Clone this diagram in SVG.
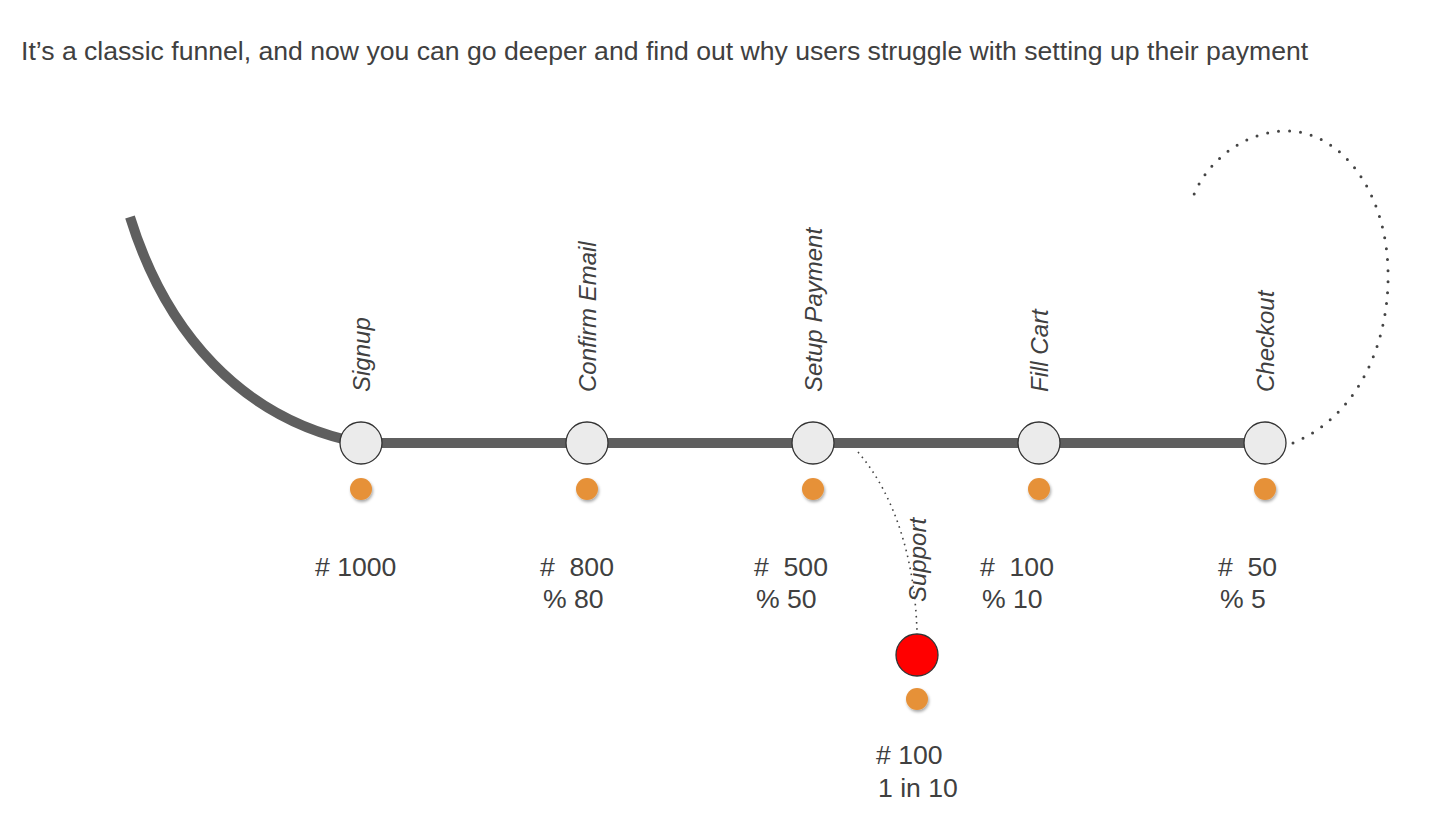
<svg xmlns="http://www.w3.org/2000/svg" width="1456" height="833" viewBox="0 0 1456 833">
<defs>
<filter id="sh" x="-50%" y="-50%" width="200%" height="200%"><feDropShadow dx="1" dy="2" stdDeviation="1.5" flood-color="#000" flood-opacity="0.35"/></filter>
</defs>
<style>
.t{font-family:"Liberation Sans",Arial,sans-serif;font-size:26.6px;fill:#404040;white-space:pre}
.lbl{font-family:"Liberation Sans",Arial,sans-serif;font-size:24px;font-style:italic;fill:#404040}
.node{fill:#ebebeb;stroke:#333;stroke-width:1.3}
.dot{fill:#e69138;filter:url(#sh)}
.track{fill:none;stroke:#5f5f5f;stroke-width:10}
</style>
<rect width="1456" height="833" fill="#fff"/>
<text class="t" x="21" y="60">It’s a classic funnel, and now you can go deeper and find out why users struggle with setting up their payment</text>
<g id="connectors">
<path class="track" d="M130,217 C165,330 240,420 361,443"/>
<path class="track" d="M361,443 H1265"/>
<path d="M858,452 C895,495 915,560 917,632" fill="none" stroke="#444" stroke-width="1.6" stroke-dasharray="1.6 4.5"/>
<path d="M1293,443 C1360,415 1390,340 1388,270 C1386,190 1340,130 1285,131 C1240,132 1205,165 1193,197" fill="none" stroke="#444" stroke-width="3" stroke-linecap="round" stroke-dasharray="0 11"/>
</g>
<g id="signup">
<circle class="node" cx="361" cy="443" r="21"/>
<circle class="dot" cx="361" cy="489" r="11"/>
<text class="lbl" transform="translate(370,392) rotate(-90)">Signup</text>
<text class="t" x="315" y="576"># 1000</text>
</g>
<g id="confirm-email">
<circle class="node" cx="587" cy="443" r="21"/>
<circle class="dot" cx="587" cy="489" r="11"/>
<text class="lbl" transform="translate(596,392) rotate(-90)">Confirm Email</text>
<text class="t" x="540" y="576">#  800</text>
<text class="t" x="543" y="608">% 80</text>
</g>
<g id="setup-payment">
<circle class="node" cx="813" cy="443" r="21"/>
<circle class="dot" cx="813" cy="489" r="11"/>
<text class="lbl" transform="translate(822,392) rotate(-90)">Setup Payment</text>
<text class="t" x="754" y="576">#  500</text>
<text class="t" x="756" y="608">% 50</text>
</g>
<g id="fill-cart">
<circle class="node" cx="1039" cy="443" r="21"/>
<circle class="dot" cx="1039" cy="489" r="11"/>
<text class="lbl" transform="translate(1048,392) rotate(-90)">Fill Cart</text>
<text class="t" x="980" y="576">#  100</text>
<text class="t" x="982" y="608">% 10</text>
</g>
<g id="checkout">
<circle class="node" cx="1265" cy="443" r="21"/>
<circle class="dot" cx="1265" cy="489" r="11"/>
<text class="lbl" transform="translate(1274,392) rotate(-90)">Checkout</text>
<text class="t" x="1218" y="576">#  50</text>
<text class="t" x="1220" y="608">% 5</text>
</g>
<g id="support">
<circle cx="917" cy="655" r="21" fill="#ff0000" stroke="#333" stroke-width="1.3"/>
<circle class="dot" cx="917" cy="699" r="11"/>
<text class="lbl" transform="translate(926,602) rotate(-90)">Support</text>
<text class="t" x="876" y="764"># 100</text>
<text class="t" x="878" y="797">1 in 10</text>
</g>
</svg>
